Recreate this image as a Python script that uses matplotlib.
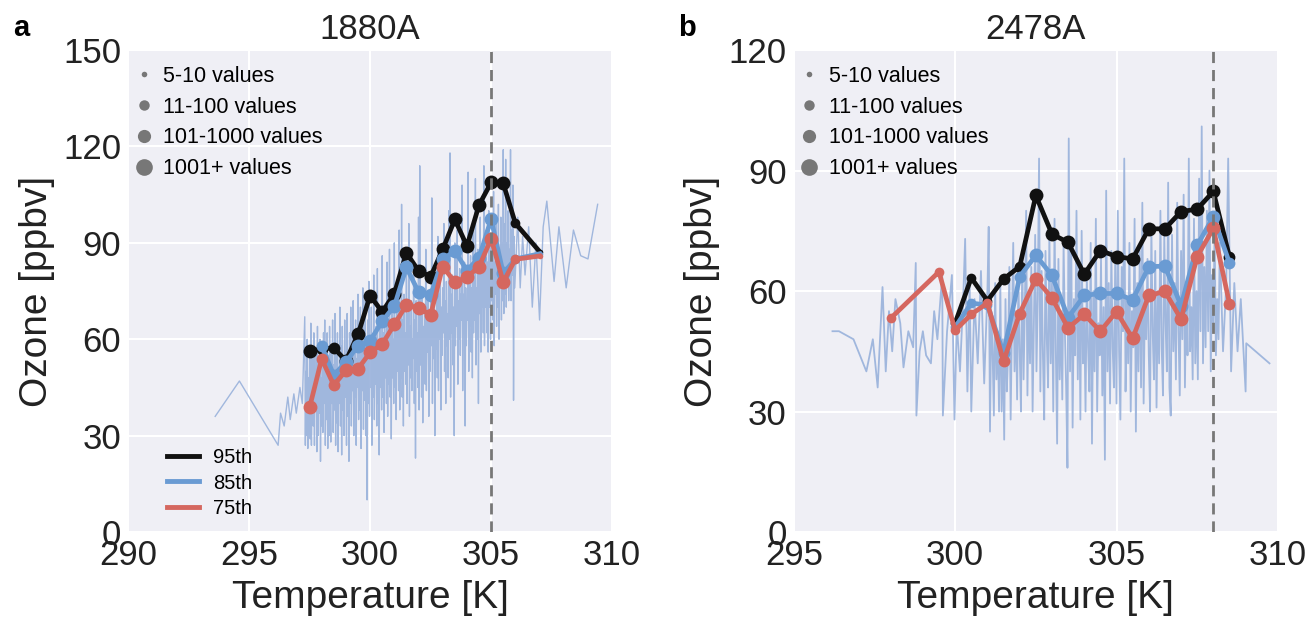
import matplotlib.pyplot as plt
from matplotlib.lines import Line2D

plt.rcParams['font.family'] = ['Liberation Sans', 'DejaVu Sans']

# ---- panel a : 1880A ----
a_raw_T = [293.6, 294.6, 296.2, 296.3, 296.45, 296.6, 296.7, 296.85, 296.95, 297.1, 297.2,
           297.3, 297.325, 297.35, 297.375, 297.4, 297.425, 297.45, 297.475, 297.5, 297.525,
           297.55, 297.575, 297.6, 297.625, 297.65, 297.675, 297.7, 297.725, 297.75, 297.775,
           297.8, 297.825, 297.85, 297.875, 297.9, 297.925, 297.95, 297.975, 298.0, 298.025,
           298.05, 298.075, 298.1, 298.125, 298.15, 298.175, 298.2, 298.225, 298.25, 298.275,
           298.3, 298.325, 298.35, 298.375, 298.4, 298.425, 298.45, 298.475, 298.5, 298.525,
           298.55, 298.575, 298.6, 298.625, 298.65, 298.675, 298.7, 298.725, 298.75, 298.775,
           298.8, 298.825, 298.85, 298.875, 298.9, 298.925, 298.95, 298.975, 299.0, 299.025,
           299.05, 299.075, 299.1, 299.125, 299.15, 299.175, 299.2, 299.225, 299.25, 299.275,
           299.3, 299.325, 299.35, 299.375, 299.4, 299.425, 299.45, 299.475, 299.5, 299.525,
           299.55, 299.575, 299.6, 299.625, 299.65, 299.675, 299.7, 299.725, 299.75, 299.775,
           299.8, 299.825, 299.85, 299.875, 299.9, 299.925, 299.95, 299.975, 300.0, 300.025,
           300.05, 300.075, 300.1, 300.125, 300.15, 300.175, 300.2, 300.225, 300.25, 300.275,
           300.3, 300.325, 300.35, 300.375, 300.4, 300.425, 300.45, 300.475, 300.5, 300.525,
           300.55, 300.575, 300.6, 300.625, 300.65, 300.675, 300.7, 300.725, 300.75, 300.775,
           300.8, 300.825, 300.85, 300.875, 300.9, 300.925, 300.95, 300.975, 301.0, 301.025,
           301.05, 301.075, 301.1, 301.125, 301.15, 301.175, 301.2, 301.225, 301.25, 301.275,
           301.3, 301.325, 301.35, 301.375, 301.4, 301.425, 301.45, 301.475, 301.5, 301.525,
           301.55, 301.575, 301.6, 301.625, 301.65, 301.675, 301.7, 301.725, 301.75, 301.775,
           301.8, 301.825, 301.85, 301.875, 301.9, 301.925, 301.95, 301.975, 302.0, 302.025,
           302.05, 302.075, 302.1, 302.125, 302.15, 302.175, 302.2, 302.225, 302.25, 302.275,
           302.3, 302.325, 302.35, 302.375, 302.4, 302.425, 302.45, 302.475, 302.5, 302.525,
           302.55, 302.575, 302.6, 302.625, 302.65, 302.675, 302.7, 302.725, 302.75, 302.775,
           302.8, 302.825, 302.85, 302.875, 302.9, 302.925, 302.95, 302.975, 303.0, 303.025,
           303.05, 303.075, 303.1, 303.125, 303.15, 303.175, 303.2, 303.225, 303.25, 303.275,
           303.3, 303.325, 303.35, 303.375, 303.4, 303.425, 303.45, 303.475, 303.5, 303.525,
           303.55, 303.575, 303.6, 303.625, 303.65, 303.675, 303.7, 303.725, 303.75, 303.775,
           303.8, 303.825, 303.85, 303.875, 303.9, 303.925, 303.95, 303.975, 304.0, 304.025,
           304.05, 304.075, 304.1, 304.125, 304.15, 304.175, 304.2, 304.225, 304.25, 304.275,
           304.3, 304.325, 304.35, 304.375, 304.4, 304.425, 304.45, 304.475, 304.5, 304.525,
           304.55, 304.575, 304.6, 304.625, 304.65, 304.675, 304.7, 304.725, 304.75, 304.775,
           304.8, 304.825, 304.85, 304.875, 304.9, 304.925, 304.95, 304.975, 305.0, 305.025,
           305.05, 305.075, 305.1, 305.125, 305.15, 305.175, 305.2, 305.225, 305.25, 305.275,
           305.3, 305.325, 305.35, 305.375, 305.4, 305.425, 305.45, 305.475, 305.5, 305.525,
           305.55, 305.575, 305.6, 305.625, 305.65, 305.675, 305.7, 305.725, 305.75, 305.775,
           305.8, 305.825, 305.85, 305.875, 305.9, 305.925, 305.95, 305.975,
           306.1, 306.2, 306.3, 306.4, 306.55, 306.7, 306.85, 307.0, 307.15, 307.3,
           307.6, 307.8, 308.1, 308.4, 308.7, 309.0, 309.4]
a_raw_O = [36, 47, 27, 37, 33, 42, 35, 43, 37, 45, 40,
           67, 27, 50, 30, 60, 26, 48, 35, 55, 29,
           65, 27, 45, 58, 33, 62, 27, 50, 40, 57,
           25, 64, 30, 52, 37, 60, 22, 48, 33, 58,
           31, 62, 40, 66, 27, 50, 35, 62, 26, 55,
           30, 64, 42, 28, 58, 40, 66, 31, 52, 38,
           68, 27, 55, 34, 62, 25, 50, 40, 70, 33,
           58, 24, 64, 38, 52, 30, 66, 42, 55, 27,
           68, 36, 56, 22, 62, 40, 70, 33, 50, 44,
           72, 30, 58, 42, 66, 27, 54, 45, 74, 35,
           60, 38, 70, 26, 56, 44, 76, 32, 62, 41,
           72, 30, 58, 10, 66, 40, 78, 36, 60, 45,
           70, 27, 58, 42, 80, 35, 56, 46, 64, 33,
           82, 40, 60, 24, 66, 45, 58, 38, 86, 42,
           62, 31, 70, 48, 60, 40, 84, 36, 64, 46,
           88, 42, 62, 29, 70, 48, 60, 40, 90, 45,
           66, 35, 76, 50, 62, 44, 94, 38, 68, 48,
           102, 42, 66, 33, 74, 50, 62, 46, 80, 40,
           68, 52, 96, 36, 64, 48, 72, 44, 60, 54,
           84, 40, 66, 23, 72, 50, 62, 45, 98, 38,
           114, 52, 70, 42, 76, 34, 64, 55, 68, 46,
           88, 44, 70, 56, 74, 36, 66, 50, 72, 58,
           104, 40, 72, 54, 78, 30, 68, 57, 74, 48,
           92, 44, 74, 60, 80, 38, 70, 55, 76, 62,
           96, 50, 72, 40, 78, 58, 68, 48, 100, 60,
           118, 42, 74, 62, 80, 52, 70, 30, 90, 58,
           76, 64, 94, 46, 72, 60, 82, 55, 74, 66,
           108, 44, 74, 62, 84, 33, 76, 58, 72, 66,
           112, 50, 78, 64, 86, 56, 76, 48, 96, 62,
           80, 66, 110, 52, 76, 60, 88, 40, 80, 68,
           98, 56, 80, 70, 88, 62, 114, 58, 82, 70,
           94, 62, 84, 56, 100, 70, 86, 60, 92, 72,
           88, 66, 106, 58, 84, 74, 96, 64, 90, 70,
           102, 60, 88, 76, 98, 66, 90, 72, 119, 68,
           96, 74, 116, 70, 90, 78, 100, 72, 88, 80,
           119, 72, 94, 80, 108, 41, 92, 76,
           98, 76, 92, 80, 95, 70, 90, 66, 95, 103,
           78, 95, 76, 94, 86, 85, 102]

a_bins = [297.5, 298.0, 298.5, 299.0, 299.5, 300.0, 300.5, 301.0, 301.5, 302.0,
          302.5, 303.0, 303.5, 304.0, 304.5, 305.0, 305.5, 306.0, 307.0]
a_count_cat = [3, 2, 2, 3, 3, 3, 3, 3, 3, 3, 3, 3, 3, 3, 3, 3, 3, 1, 0]
a_p95 = [56.3, 57.0, 57.3, 53.3, 61.5, 73.6, 68.5, 74.2, 86.9, 81.3,
         79.5, 88.0, 97.3, 89.0, 101.8, 108.8, 108.5, 96.1, 87.3]
a_p85 = [None, 57.9, 48.8, 52.9, 58.0, 59.5, 65.6, 70.3, 82.4, 74.7,
         73.7, 84.9, 87.5, 81.4, 85.4, 97.4, 80.5, 85.0, 86.6]
a_p75 = [38.8, 53.9, 45.7, 50.3, 50.8, 55.9, 58.5, 64.6, 70.7, 69.7,
         67.6, 82.6, 77.8, 79.3, 82.6, 91.3, 77.8, 84.9, 85.9]
a_tmax = 305.0

# ---- panel b : 2478A ----
b_raw_T = [296.2, 296.4, 296.85, 297.25, 297.45, 297.6, 297.75, 297.85, 297.95, 298.05,
           298.15, 298.3, 298.4, 298.55, 298.7, 298.78, 298.8, 298.9, 299.0, 299.1,
           299.25, 299.35, 299.45, 299.6, 299.62, 299.75, 299.9, 299.98, 300.05, 300.15,
           300.25, 300.31, 300.38, 300.45, 300.5, 300.6, 300.7, 300.8, 300.9,
           301.0, 301.04, 301.08, 301.12, 301.16, 301.2, 301.24, 301.28, 301.32, 301.36,
           301.4, 301.44, 301.48, 301.52, 301.56, 301.6, 301.64, 301.68, 301.72, 301.76,
           301.8, 301.84, 301.88, 301.92, 301.96, 302.0, 302.04, 302.08, 302.12, 302.16,
           302.2, 302.24, 302.28, 302.32, 302.36, 302.4, 302.44, 302.48, 302.52, 302.56,
           302.6, 302.64, 302.68, 302.72, 302.76, 302.8, 302.84, 302.88, 302.92, 302.96,
           303.0, 303.04, 303.08, 303.12, 303.16, 303.2, 303.24, 303.28, 303.32, 303.36,
           303.4, 303.44, 303.48, 303.52, 303.56, 303.6, 303.64, 303.68, 303.72, 303.76,
           303.8, 303.84, 303.88, 303.92, 303.96, 304.0, 304.04, 304.08, 304.12, 304.16,
           304.2, 304.24, 304.28, 304.32, 304.36, 304.4, 304.44, 304.48, 304.52, 304.56,
           304.6, 304.64, 304.68, 304.72, 304.76, 304.8, 304.84, 304.88, 304.92, 304.96,
           305.0, 305.04, 305.08, 305.12, 305.16, 305.2, 305.24, 305.28, 305.32, 305.36,
           305.4, 305.44, 305.48, 305.52, 305.56, 305.6, 305.64, 305.68, 305.72, 305.76,
           305.8, 305.84, 305.88, 305.92, 305.96, 306.0, 306.04, 306.08, 306.12, 306.16,
           306.2, 306.24, 306.28, 306.32, 306.36, 306.4, 306.44, 306.48, 306.52, 306.56,
           306.6, 306.64, 306.68, 306.72, 306.76, 306.8, 306.84, 306.88, 306.92, 306.96,
           307.0, 307.04, 307.08, 307.12, 307.16, 307.2, 307.24, 307.28, 307.32, 307.36,
           307.4, 307.44, 307.48, 307.52, 307.56, 307.6, 307.64, 307.68, 307.72, 307.76,
           307.8, 307.84, 307.88, 307.92, 307.96, 308.0, 308.04, 308.08, 308.12, 308.16,
           308.2, 308.3, 308.4, 308.46, 308.55,
           308.65, 308.75, 308.85, 309.0, 309.02, 309.74]
b_raw_O = [50, 50, 48, 40, 48, 36, 61, 40, 55, 45,
           58, 52, 41, 50, 46, 67, 29, 45, 50, 44,
           42, 55, 48, 64, 29, 50, 64, 28, 52, 40,
           58, 73, 35, 62, 30, 58, 42, 65, 37,
           60, 76, 25, 55, 45, 29, 62, 38, 50, 30,
           62, 30, 48, 23, 58, 35, 44, 66, 28, 52,
           72, 40, 55, 33, 63, 45, 30, 70, 38, 56,
           80, 34, 60, 42, 66, 30, 52, 74, 40, 58,
           93, 35, 65, 44, 28, 70, 48, 36, 75, 42,
           62, 30, 78, 45, 22, 68, 38, 55, 33, 72,
           50, 36, 16, 98, 40, 70, 26, 58, 44, 80,
           38, 66, 28, 75, 42, 55, 30, 64, 46, 35,
           72, 22, 60, 40, 78, 30, 52, 44, 68, 34,
           56, 18, 85, 40, 62, 32, 70, 46, 36, 68,
           32, 80, 45, 28, 66, 50, 93, 35, 58, 42,
           72, 30, 55, 46, 78, 25, 62, 40, 70, 36,
           82, 32, 58, 48, 68, 44, 30, 76, 50, 38,
           70, 31, 60, 42, 80, 46, 34, 74, 52, 40,
           87, 36, 29, 74, 45, 62, 38, 82, 50, 34,
           70, 48, 84, 36, 62, 44, 93, 45, 56, 38,
           78, 42, 60, 38, 88, 50, 101, 42, 66, 46,
           80, 50, 90, 40, 64, 52, 75, 44, 58, 48,
           72, 45, 62, 93, 40,
           62, 45, 58, 35, 47, 42]

b_bins = [298.0, 299.5, 300.0, 300.5, 301.0, 301.5, 302.0, 302.5, 303.0, 303.5,
          304.0, 304.5, 305.0, 305.5, 306.0, 306.5, 307.0, 307.5, 308.0, 308.5]
b_count_cat = [1, 1, 1, 1, 1, 2, 2, 3, 3, 3, 3, 3, 3, 3, 3, 3, 3, 3, 3, 2]
b_p95 = [None, None, 52.0, 63.3, 57.6, 63.0, 66.1, 83.8, 74.2, 72.1,
         64.2, 70.1, 68.6, 68.0, 75.5, 75.5, 79.8, 80.4, 84.8, 68.5]
b_p85 = [None, None, 51.0, 57.0, 56.5, 44.5, 63.6, 68.9, 63.9, 53.4,
         58.9, 59.4, 59.4, 57.8, 66.1, 66.2, 56.4, 71.4, 78.5, 67.0]
b_p75 = [53.2, 64.8, 50.2, 54.2, 57.0, 42.5, 54.4, 63.0, 58.3, 50.8,
         54.2, 50.0, 54.9, 48.2, 58.9, 59.9, 53.0, 68.6, 75.6, 56.9]
b_tmax = 308.0

size_labels = ['5-10 values', '11-100 values', '101-1000 values', '1001+ values']
pct_labels = ['95th', '85th', '75th']

c_raw = '#98b1db'
c95, c85, c75 = '#111111', '#6a9bd3', '#d5675f'
msizes = [4, 7, 8.5, 10]
leg_msizes = [4, 7.5, 9.5, 12]
bg = '#efeff5'

fig = plt.figure(figsize=(13.12, 6.21), dpi=100)
axa = fig.add_axes([0.0976, 0.1433, 0.369, 0.776])
axb = fig.add_axes([0.605, 0.1433, 0.369, 0.776])


def pct_line(ax, bins, vals, cats, color):
    xs = [t for t, v in zip(bins, vals) if v is not None]
    ys = [v for v in vals if v is not None]
    cs = [c for c, v in zip(cats, vals) if v is not None]
    ax.plot(xs, ys, color=color, lw=3.4, zorder=3)
    for x, y, c in zip(xs, ys, cs):
        ax.plot(x, y, 'o', color=color, ms=msizes[c], mew=0, zorder=3)


def panel(ax, raw_T, raw_O, raw_lw, bins, cats, p95, p85, p75, tmax, xlim, ylim, title, letter):
    ax.set_facecolor(bg)
    for s in ax.spines.values():
        s.set_visible(False)
    ax.grid(True, color='white', lw=1.5)
    ax.set_axisbelow(True)
    ax.plot(raw_T, raw_O, color=c_raw, lw=raw_lw, alpha=0.9, zorder=2)
    pct_line(ax, bins, p95, cats, c95)
    pct_line(ax, bins, p85, cats, c85)
    pct_line(ax, bins, p75, cats, c75)
    ax.axvline(tmax, color='#777777', lw=2, ls=(0, (4, 2.5)), zorder=4)
    ax.set_xlim(*xlim)
    ax.set_ylim(*ylim)
    ax.set_xticks(range(xlim[0], xlim[1] + 1, 5))
    ax.set_yticks(range(0, ylim[1] + 1, 30))
    ax.tick_params(length=0, labelsize=25, pad=5, colors='#222222')
    ax.set_xlabel('Temperature [K]', fontsize=28, labelpad=6, color='#222222')
    ax.set_ylabel('Ozone [ppbv]', fontsize=28, labelpad=6, color='#222222')
    ax.set_title(title, fontsize=25, pad=8, color='#222222')
    ax.text(-0.238, 1.046, letter, transform=ax.transAxes, fontsize=21,
            fontweight='bold', va='center', ha='left')
    handles = [Line2D([], [], marker='o', ls='none', color='#777777', ms=m, mew=0)
               for m in leg_msizes]
    leg = ax.legend(handles, size_labels, loc='upper left', bbox_to_anchor=(0.01, 0.967),
                    frameon=False, fontsize=15.5, handlelength=1.0, handletextpad=0.4,
                    labelspacing=0.45, borderpad=0, borderaxespad=0)
    return leg


leg = panel(axa, a_raw_T, a_raw_O, 1.0, a_bins, a_count_cat, a_p95, a_p85, a_p75, a_tmax,
            (290, 310), (0, 150), '1880A', 'a')
axa.add_artist(leg)
pct_handles = [Line2D([], [], color=c, lw=3.5) for c in (c95, c85, c75)]
axa.legend(pct_handles, pct_labels, loc='lower left', bbox_to_anchor=(0.08, 0.03),
           frameon=False, fontsize=14.5, handlelength=1.6, handletextpad=0.7,
           labelspacing=0.3, borderpad=0, borderaxespad=0)

panel(axb, b_raw_T, b_raw_O, 1.3, b_bins, b_count_cat, b_p95, b_p85, b_p75, b_tmax,
      (295, 310), (0, 120), '2478A', 'b')

fig.savefig('out.png', dpi=100)
